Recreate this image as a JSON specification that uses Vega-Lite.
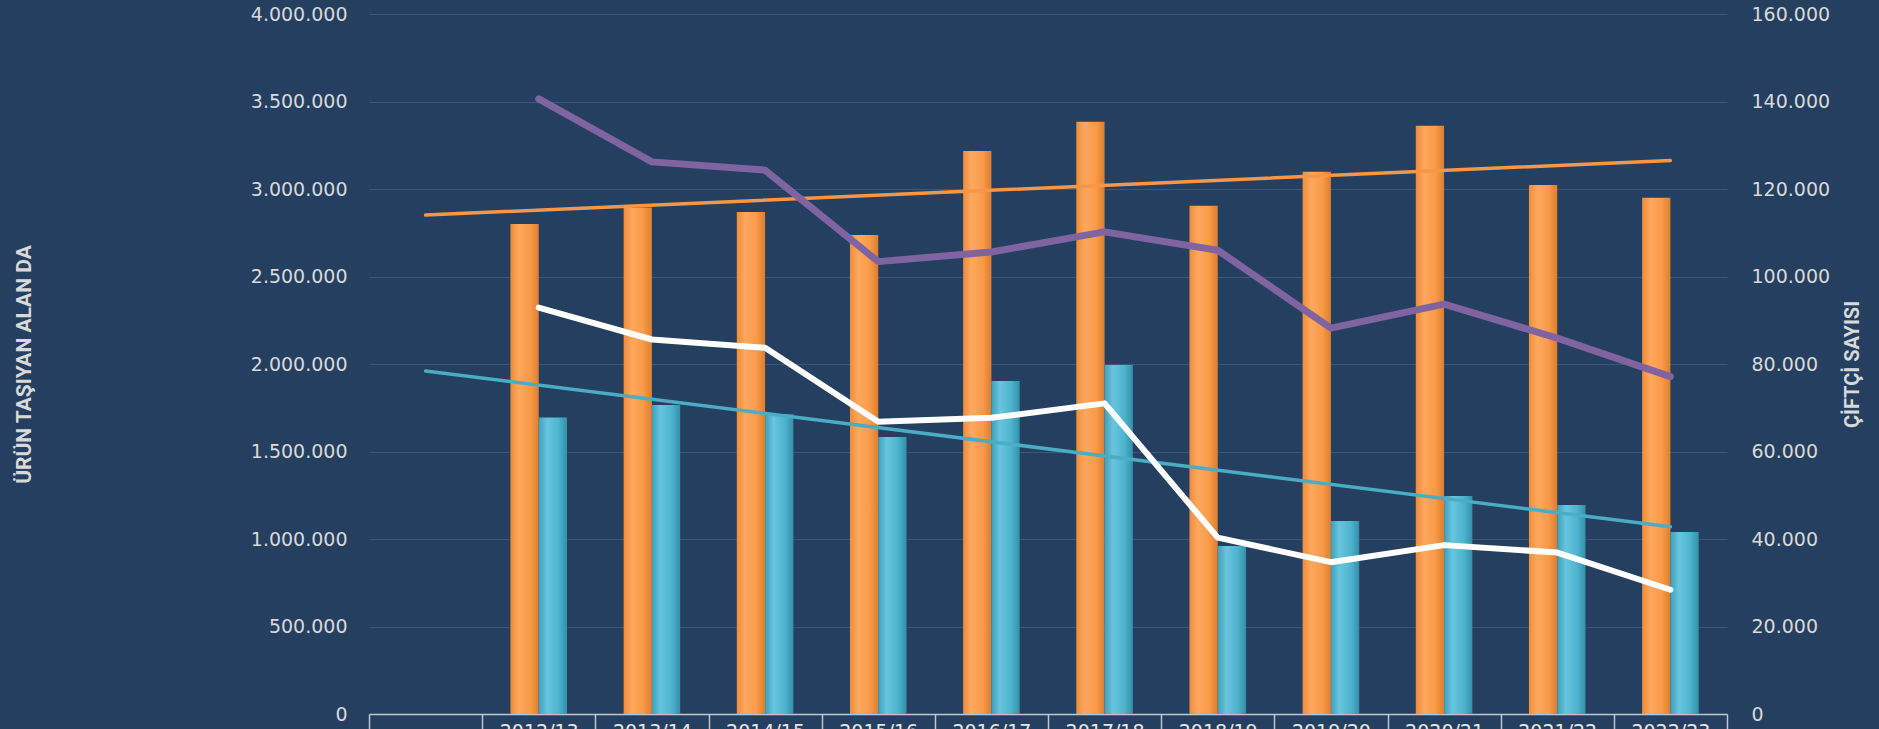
{
  "$schema": "https://vega.github.io/schema/vega-lite/v6.json",
  "width": 1358,
  "height": 700,
  "autosize": {"type": "none"},
  "padding": {"left": 369, "top": 14, "right": 152, "bottom": 15},
  "background": "#243F60",
  "config": {
    "view": {"stroke": null},
    "locale": {"number": {"decimal": ",", "thousands": ".", "grouping": [3], "currency": ["", ""]}},
    "axis": {
      "labelFont": "DejaVu Sans",
      "labelFontSize": 19,
      "labelColor": "#D9D9D9",
      "titleFont": "Roboto",
      "titleFontWeight": "bold",
      "titleFontSize": 20,
      "titleColor": "#D9D9D9"
    }
  },
  "datasets": {
    "orange": [
      {"season": "2012/13", "series": "A", "value": 2800000},
      {"season": "2013/14", "series": "A", "value": 2895000},
      {"season": "2014/15", "series": "A", "value": 2868000},
      {"season": "2015/16", "series": "A", "value": 2737000},
      {"season": "2016/17", "series": "A", "value": 3217000},
      {"season": "2017/18", "series": "A", "value": 3385000},
      {"season": "2018/19", "series": "A", "value": 2905000},
      {"season": "2019/20", "series": "A", "value": 3099000},
      {"season": "2020/21", "series": "A", "value": 3362000},
      {"season": "2021/22", "series": "A", "value": 3023000},
      {"season": "2022/23", "series": "A", "value": 2950000}
    ],
    "cyan": [
      {"season": "2012/13", "series": "B", "value": 1695000},
      {"season": "2013/14", "series": "B", "value": 1766000},
      {"season": "2014/15", "series": "B", "value": 1713000},
      {"season": "2015/16", "series": "B", "value": 1583000},
      {"season": "2016/17", "series": "B", "value": 1903000},
      {"season": "2017/18", "series": "B", "value": 1994000},
      {"season": "2018/19", "series": "B", "value": 960000},
      {"season": "2019/20", "series": "B", "value": 1103000},
      {"season": "2020/21", "series": "B", "value": 1246000},
      {"season": "2021/22", "series": "B", "value": 1194000},
      {"season": "2022/23", "series": "B", "value": 1040000}
    ],
    "trendOrange": [
      {"season": " ", "value": 2851000},
      {"season": "2022/23", "value": 3163000}
    ],
    "trendCyan": [
      {"season": " ", "value": 1960000},
      {"season": "2022/23", "value": 1070000}
    ],
    "purple": [
      {"season": "2012/13", "value": 140600},
      {"season": "2013/14", "value": 126200},
      {"season": "2014/15", "value": 124300},
      {"season": "2015/16", "value": 103400},
      {"season": "2016/17", "value": 105600},
      {"season": "2017/18", "value": 110200},
      {"season": "2018/19", "value": 106000},
      {"season": "2019/20", "value": 88200},
      {"season": "2020/21", "value": 93700},
      {"season": "2021/22", "value": 85900},
      {"season": "2022/23", "value": 77100}
    ],
    "white": [
      {"season": "2012/13", "value": 92900},
      {"season": "2013/14", "value": 85600},
      {"season": "2014/15", "value": 83700},
      {"season": "2015/16", "value": 66800},
      {"season": "2016/17", "value": 67700},
      {"season": "2017/18", "value": 71000},
      {"season": "2018/19", "value": 40300},
      {"season": "2019/20", "value": 34700},
      {"season": "2020/21", "value": 38600},
      {"season": "2021/22", "value": 36900},
      {"season": "2022/23", "value": 28400}
    ]
  },
  "layer": [
    {
      "layer": [
        {
          "data": {"name": "orange"},
          "mark": {"type": "bar", "fill": {"gradient": "linear", "x1": 0, "x2": 1, "y1": 0, "y2": 0, "stops": [{"offset": 0, "color": "#EE8C3A"}, {"offset": 0.3, "color": "#FDA85E"}, {"offset": 0.7, "color": "#F99A48"}, {"offset": 1, "color": "#DD7E30"}]}},
          "encoding": {
            "x": {
              "field": "season", "type": "nominal", "title": null,
              "scale": {"domain": [" ", "2012/13", "2013/14", "2014/15", "2015/16", "2016/17", "2017/18", "2018/19", "2019/20", "2020/21", "2021/22", "2022/23"], "paddingInner": 0, "paddingOuter": 0},
              "axis": {"orient": "bottom", "domainColor": "#BFC6D0", "domainWidth": 1.5, "ticks": true, "tickBand": "extent", "tickColor": "#BFC6D0", "tickWidth": 1.5, "tickSize": 15, "labelPadding": 8, "labelBaseline": "alphabetic", "labelAngle": 0, "labelColor": "#E6E6E6", "grid": false}
            },
            "xOffset": {"field": "series", "type": "nominal", "scale": {"domain": ["A", "B"], "paddingInner": 0, "paddingOuter": 1.135}},
            "y": {
              "field": "value", "type": "quantitative",
              "scale": {"domain": [0, 4000000]},
              "axis": {"orient": "left", "title": "ÜRÜN TAŞIYAN ALAN DA", "titleFontSize": 21, "values": [0, 500000, 1000000, 1500000, 2000000, 2500000, 3000000, 3500000, 4000000], "format": ",.0f", "domain": false, "ticks": false, "labelPadding": 22, "grid": true, "gridColor": "#3B5677", "gridWidth": 1.2, "titleAngle": 270, "titleX": -345, "titleY": 350, "titleAlign": "center", "titleBaseline": "middle"}
            }
          }
        },
        {
          "data": {"name": "cyan"},
          "mark": {"type": "bar", "fill": {"gradient": "linear", "x1": 0, "x2": 1, "y1": 0, "y2": 0, "stops": [{"offset": 0, "color": "#3DA0BA"}, {"offset": 0.3, "color": "#68C5DD"}, {"offset": 0.7, "color": "#4DB4CF"}, {"offset": 1, "color": "#3290A9"}]}},
          "encoding": {
            "x": {"field": "season", "type": "nominal", "title": null},
            "xOffset": {"field": "series", "type": "nominal", "scale": {"domain": ["A", "B"], "paddingInner": 0, "paddingOuter": 1.135}},
            "y": {"field": "value", "type": "quantitative"}
          }
        },
        {
          "data": {"name": "trendOrange"},
          "mark": {"type": "line", "color": "#F79646", "strokeWidth": 3.5, "strokeCap": "round"},
          "encoding": {
            "x": {"field": "season", "type": "nominal", "title": null},
            "y": {"field": "value", "type": "quantitative"}
          }
        },
        {
          "data": {"name": "trendCyan"},
          "mark": {"type": "line", "color": "#4BACC6", "strokeWidth": 3.5, "strokeCap": "round"},
          "encoding": {
            "x": {"field": "season", "type": "nominal", "title": null},
            "y": {"field": "value", "type": "quantitative"}
          }
        }
      ]
    },
    {
      "layer": [
        {
          "data": {"name": "purple"},
          "mark": {"type": "line", "color": "#8064A2", "strokeWidth": 7, "strokeCap": "round", "strokeJoin": "round"},
          "encoding": {
            "x": {"field": "season", "type": "nominal", "title": null},
            "y": {
              "field": "value", "type": "quantitative",
              "scale": {"domain": [0, 160000]},
              "axis": {"orient": "right", "title": "ÇİFTÇİ SAYISI", "values": [0, 20000, 40000, 60000, 80000, 100000, 120000, 140000, 160000], "format": ",.0f", "domain": false, "ticks": false, "grid": false, "labelPadding": 24, "titleAngle": 270, "titleX": 125, "titleY": 350, "titleAlign": "center", "titleBaseline": "middle"}
            }
          }
        },
        {
          "data": {"name": "white"},
          "mark": {"type": "line", "color": "#FFFFFF", "strokeWidth": 6, "strokeCap": "round", "strokeJoin": "round"},
          "encoding": {
            "x": {"field": "season", "type": "nominal", "title": null},
            "y": {"field": "value", "type": "quantitative"}
          }
        }
      ]
    }
  ],
  "resolve": {"scale": {"y": "independent"}, "axis": {"y": "independent"}}
}
